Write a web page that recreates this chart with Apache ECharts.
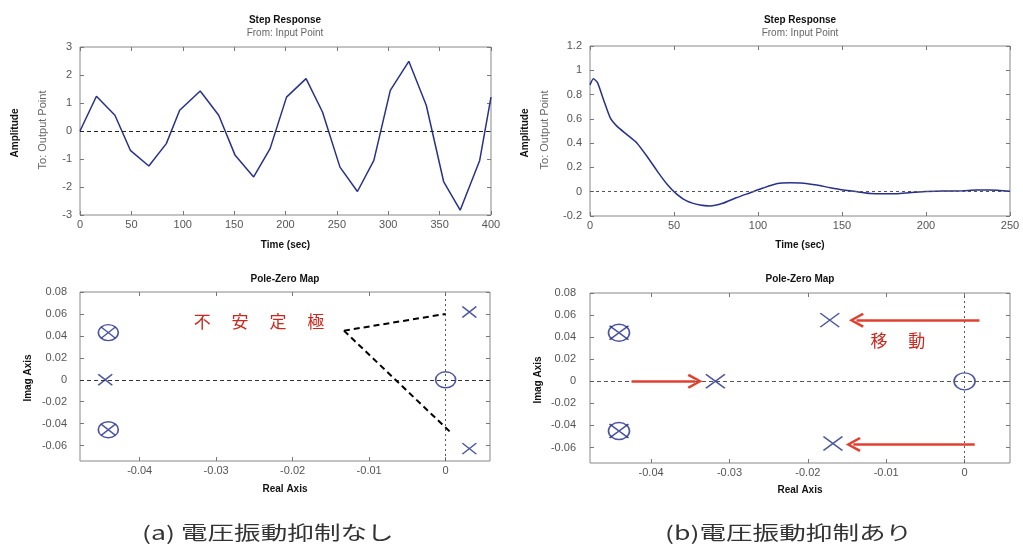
<!DOCTYPE html>
<html>
<head>
<meta charset="utf-8">
<script src="https://cdn.jsdelivr.net/npm/echarts@6/dist/echarts.min.js"></script>
<style>html,body{margin:0;padding:0;background:#fff}#echarts{width:1023px;height:547px}</style>
</head>
<body>
<div id="echarts"></div>
<script>
var myChart = echarts.init(document.getElementById('echarts'));

// (a) step response, no suppression
var stepTimeA = [0, 16, 34, 49, 67, 84, 97, 117, 135, 151, 169, 185, 201, 220, 236, 253, 270, 286, 302, 320, 337, 354, 370, 389, 400];
var stepAmpA = [0, 1.24, 0.56, -0.69, -1.25, -0.45, 0.74, 1.43, 0.56, -0.87, -1.64, -0.63, 1.21, 1.87, 0.68, -1.29, -2.16, -1.05, 1.45, 2.49, 0.92, -1.82, -2.83, -1.05, 1.21];
// (b) step response, with suppression
var stepTimeB = [0, 2, 4.4, 8, 12, 16, 22, 28, 34, 40, 46, 51.6, 57.5, 65.5, 71.4, 79, 87, 95, 103, 111, 119, 127, 135, 143, 151, 159, 167, 175, 182.5, 190, 198, 210, 222, 230, 238, 250];
var stepAmpB = [0.88, 0.93, 0.90, 0.76, 0.61, 0.54, 0.47, 0.40, 0.29, 0.17, 0.06, -0.02, -0.076, -0.11, -0.117, -0.095, -0.05, -0.01, 0.03, 0.065, 0.073, 0.07, 0.055, 0.033, 0.014, 0, -0.014, -0.016, -0.016, -0.008, 0, 0.005, 0.008, 0.014, 0.014, 0.003];

// pole-zero maps [real, imag]
var zerosA = [[-0.0441, 0.043], [-0.0441, -0.0455], [0, 0]];
var polesA = [[-0.0441, 0.043], [-0.0441, -0.0455], [-0.0445, 0], [0.0031, 0.0618], [0.0031, -0.0627]];
var zerosB = [[-0.0441, 0.044], [-0.0441, -0.045], [0, 0]];
var polesB = [[-0.0441, 0.044], [-0.0441, -0.045], [-0.0318, 0], [-0.0172, 0.0554], [-0.0168, -0.0564]];

// tick labels of the pole-zero maps
var pzTicksX = [-0.04, -0.03, -0.02, -0.01, 0];
var pzTicksY = [-0.06, -0.04, -0.02, 0, 0.02, 0.04, 0.06, 0.08];

// annotations (data coordinates)
var unstableLines = [[[-0.0133, 0.0448], [0, 0.06]], [[-0.0133, 0.0448], [0.0007, -0.0482]]];
var unstableLabel = [-0.0244, 0.0533];
var moveArrows = [[[0.0019, 0.0554], [-0.0138, 0.0554]], [[0.0013, -0.0572], [-0.0142, -0.0572]], [[-0.0425, 0], [-0.0344, 0]]];
var moveLabel = [-0.0085, 0.0367];

var navy = '#1f2a88';
var latin = 'Liberation Sans, Arial, sans-serif';
var crossPath = 'path://M0,0L10,10M10,0L0,10';
var chevron = 'path://M5,0L10,9L8.6,10L5,3.2L1.4,10L0,9Z';

function pairs(xs, ys) {
  return xs.map(function (x, i) { return [x, ys[i]]; });
}

function axis(gridIndex, position, min, max, interval, ticks, showLabel, margin) {
  var ax = {
    type: 'value', gridIndex: gridIndex, position: position, min: min, max: max,
    axisLine: {show: false, onZero: false},
    splitLine: {show: false},
    axisTick: {show: true, inside: true, length: 4, lineStyle: {color: '#777'}},
    axisLabel: {show: showLabel, margin: margin, color: '#555', fontSize: 11, fontFamily: latin}
  };
  if (interval) ax.interval = interval;
  if (ticks) {
    ax.axisTick.customValues = ticks;
    ax.axisLabel.customValues = ticks;
  }
  return ax;
}

function named(ax, name, gap) {
  ax.name = name;
  ax.nameLocation = 'middle';
  ax.nameGap = gap;
  ax.nameTextStyle = {fontSize: 10, fontWeight: 'bold', color: '#111', fontFamily: latin};
  return ax;
}

function vText(x, y, text, bold) {
  return {
    type: 'text', x: x, y: y, rotation: Math.PI / 2,
    style: {
      text: text, fill: bold ? '#111' : '#666',
      font: (bold ? 'bold ' : '') + (bold ? '10px ' : '11px ') + latin,
      align: 'center', verticalAlign: 'middle', textAlign: 'center', textVerticalAlign: 'middle'
    }
  };
}

function caption(x, text) {
  return {
    type: 'text', x: x, y: 533, scaleX: 1.4,
    style: {
      text: text, fill: '#333', font: '19px "Noto Sans CJK JP"',
      align: 'left', verticalAlign: 'middle', textAlign: 'left', textVerticalAlign: 'middle'
    }
  };
}

function title(left, top, text, sub) {
  return {
    text: text, subtext: sub || '', left: left, top: top, textAlign: 'center', padding: 0, itemGap: 3,
    textStyle: {fontSize: 10, fontWeight: 'bold', color: '#111', fontFamily: latin},
    subtextStyle: {fontSize: 10, color: '#666', fontFamily: latin}
  };
}

var gridStyle = {show: true, borderColor: '#888', borderWidth: 1, backgroundColor: '#fff'};

option = {
  animation: false,
  backgroundColor: '#fff',
  title: [
    title(285, 15, 'Step Response', 'From: Input Point'),
    title(800, 15, 'Step Response', 'From: Input Point'),
    title(285, 274, 'Pole-Zero Map'),
    title(800, 274, 'Pole-Zero Map')
  ],
  grid: [
    Object.assign({left: 80, top: 47, width: 411, height: 168}, gridStyle),
    Object.assign({left: 590, top: 46, width: 420, height: 170}, gridStyle),
    Object.assign({left: 80, top: 292, width: 410, height: 169}, gridStyle),
    Object.assign({left: 590, top: 293, width: 420, height: 170}, gridStyle)
  ],
  xAxis: [
    named(axis(0, 'bottom', 0, 400, 50, null, true, 4), 'Time (sec)', 25),
    axis(0, 'top', 0, 400, 50, null, false, 4),
    named(axis(1, 'bottom', 0, 250, 50, null, true, 4), 'Time (sec)', 24),
    axis(1, 'top', 0, 250, 50, null, false, 4),
    named(axis(2, 'bottom', -0.0478, 0.0058, null, pzTicksX, true, 4), 'Real Axis', 23),
    axis(2, 'top', -0.0478, 0.0058, null, pzTicksX, false, 4),
    named(axis(3, 'bottom', -0.0478, 0.0058, null, pzTicksX, true, 4), 'Real Axis', 22),
    axis(3, 'top', -0.0478, 0.0058, null, pzTicksX, false, 4)
  ],
  yAxis: [
    axis(0, 'left', -3, 3, 1, null, true, 8),
    axis(0, 'right', -3, 3, 1, null, false, 8),
    axis(1, 'left', -0.2, 1.2, 0.2, null, true, 8),
    axis(1, 'right', -0.2, 1.2, 0.2, null, false, 8),
    axis(2, 'left', -0.074, 0.08, null, pzTicksY, true, 13),
    axis(2, 'right', -0.074, 0.08, null, pzTicksY, false, 13),
    axis(3, 'left', -0.074, 0.08, null, pzTicksY, true, 14),
    axis(3, 'right', -0.074, 0.08, null, pzTicksY, false, 14)
  ],
  graphic: [
    vText(15, 133, 'Amplitude', true),
    vText(43, 130, 'To: Output Point', false),
    vText(525, 133, 'Amplitude', true),
    vText(545, 130, 'To: Output Point', false),
    vText(28, 378, 'Imag Axis', true),
    vText(538, 380, 'Imag Axis', true),
    caption(142, '(a) 電圧振動抑制なし'),
    caption(665, '(b)電圧振動抑制あり')
  ],
  series: [
    {
      type: 'line', xAxisIndex: 0, yAxisIndex: 0, data: pairs(stepTimeA, stepAmpA),
      symbol: 'none', lineStyle: {color: '#28318a', width: 1.5},
      markLine: {silent: true, symbol: 'none', label: {show: false},
        lineStyle: {color: '#222', type: [4, 3], width: 1}, data: [{yAxis: 0}]}
    },
    {
      type: 'line', xAxisIndex: 2, yAxisIndex: 2, data: pairs(stepTimeB, stepAmpB),
      symbol: 'none', smooth: 0.2, lineStyle: {color: '#28318a', width: 1.5},
      markLine: {silent: true, symbol: 'none', label: {show: false},
        lineStyle: {color: '#555', type: [3, 3], width: 1}, data: [{yAxis: 0}]}
    },
    {
      type: 'scatter', xAxisIndex: 4, yAxisIndex: 4, data: zerosA,
      symbol: 'circle', symbolSize: [20, 16],
      itemStyle: {color: 'rgba(0,0,0,0)', borderColor: navy, borderWidth: 1.5},
      markLine: {silent: true, symbol: 'none', label: {show: false}, data: [
        {yAxis: 0, lineStyle: {color: '#333', type: [4, 3], width: 1}},
        {xAxis: 0, lineStyle: {color: '#556', type: [2, 3], width: 1}}
      ]}
    },
    {
      type: 'scatter', xAxisIndex: 4, yAxisIndex: 4, data: polesA,
      symbol: crossPath, symbolSize: [14, 11],
      itemStyle: {color: 'rgba(0,0,0,0)', borderColor: navy, borderWidth: 1.5},
      markLine: {silent: true, symbol: 'none', label: {show: false},
        lineStyle: {color: '#000', type: [6, 4], width: 2},
        data: unstableLines.map(function (l) { return [{coord: l[0]}, {coord: l[1]}]; })},
      markPoint: {silent: true, symbol: 'rect', symbolSize: 1, itemStyle: {color: 'rgba(0,0,0,0)'},
        label: {show: true, position: 'inside', formatter: '不\u3000 安\u3000 定\u3000 極',
          color: '#c8281e', fontSize: 17, fontFamily: 'Noto Sans CJK JP'},
        data: [{coord: unstableLabel}]}
    },
    {
      type: 'scatter', xAxisIndex: 6, yAxisIndex: 6, data: zerosB,
      symbol: 'circle', symbolSize: [21, 17],
      itemStyle: {color: 'rgba(0,0,0,0)', borderColor: navy, borderWidth: 1.5},
      markLine: {silent: true, symbol: 'none', label: {show: false}, data: [
        {yAxis: 0, lineStyle: {color: '#555', type: [4, 3], width: 1}},
        {xAxis: 0, lineStyle: {color: '#556', type: [2, 3], width: 1}}
      ]}
    },
    {
      type: 'scatter', xAxisIndex: 6, yAxisIndex: 6, data: polesB,
      symbol: crossPath, symbolSize: [19, 14],
      itemStyle: {color: 'rgba(0,0,0,0)', borderColor: navy, borderWidth: 1.5},
      markLine: {silent: true, symbol: ['none', chevron], symbolSize: 15, label: {show: false},
        lineStyle: {color: '#e04030', type: 'solid', width: 2.5},
        data: moveArrows.map(function (l) { return [{coord: l[0]}, {coord: l[1]}]; })},
      markPoint: {silent: true, symbol: 'rect', symbolSize: 1, itemStyle: {color: 'rgba(0,0,0,0)'},
        label: {show: true, position: 'inside', formatter: '移\u3000 動',
          color: '#c8281e', fontSize: 17, fontFamily: 'Noto Sans CJK JP'},
        data: [{coord: moveLabel}]}
    }
  ]
};

myChart.setOption(option);
</script>
</body>
</html>
